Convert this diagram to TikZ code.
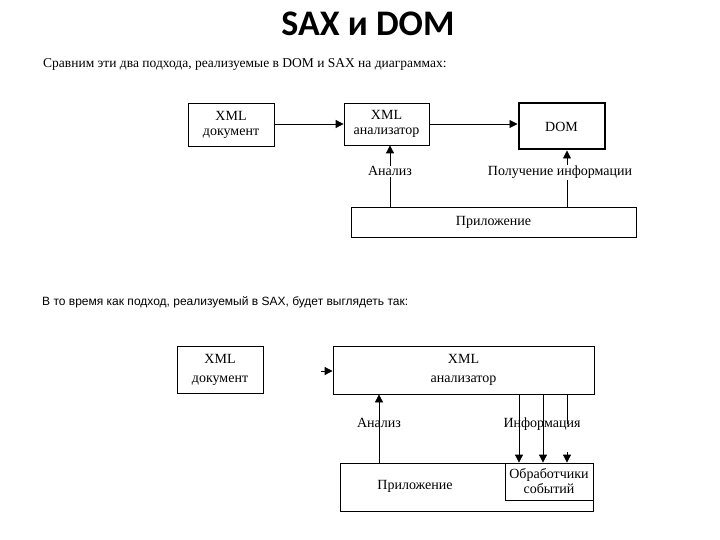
\documentclass[tikz,border=0pt]{standalone}
\usepackage{fontspec}
\setmainfont{Liberation Serif}
\newfontfamily\headfont{Carlito}
\newfontfamily\notefont{Liberation Sans}
\usepackage{tikz}
\usetikzlibrary{arrows.meta,calc}

\begin{document}
\begin{tikzpicture}[
  x=1pt, y=-1pt,
  font=\fontsize{14}{15}\selectfont,
  box/.style={draw, line width=0.8pt, align=center, inner sep=0pt},
  thickbox/.style={box, line width=2pt},
  widebox/.style={box, font=\fontsize{14}{19}\selectfont},
  lab/.style={inner sep=1pt, anchor=base},
  coverlab/.style={lab, fill=white},
  ar/.style={-{Triangle[length=8pt, width=8pt]}, line width=0.8pt}
]
\useasboundingbox (0,0) rectangle (720,540);

% heading and texts
\node[anchor=base, font=\headfont\bfseries\fontsize{36}{38}\selectfont] (title) at (368,36) {SAX и DOM};
\node[anchor=base west, inner sep=0pt, font=\fontsize{13.5}{15}\selectfont] (intro) at (43,68)
  {Сравним эти два подхода, реализуемые в DOM и SAX на диаграммах:};
\node[anchor=base west, inner sep=0pt, font=\notefont\fontsize{12}{14}\selectfont] (saxnote) at (42,305)
  {В то время как подход, реализуемый в SAX, будет выглядеть так:};

% DOM
\node[box, minimum width=86pt, minimum height=43pt] (doc1) at (231,124.5) {XML\\документ};
\node[box, minimum width=85pt, minimum height=42pt] (par1) at (386.5,124) {XML\\анализатор};
\node[thickbox, minimum width=86pt, minimum height=46pt] (dom) at (561.5,126.5) {DOM};
\node[box, minimum width=285pt, minimum height=30pt] (app1) at (493.5,222) {Приложение};

\draw[ar] (doc1.east |- par1.east) -- (par1.west);
\draw[ar] (par1.east) -- (par1.east -| dom.west);

\coordinate (anx1) at (390,176);
\coordinate (getx1) at (567,176);
\draw[ar] (app1.north -| anx1) -- (par1.south -| anx1);
\draw[ar] (app1.north -| getx1) -- (dom.south -| getx1);
\node[coverlab] (an1) at (anx1) {Анализ};
\node[coverlab] (get1) at (560,176) {Получение информации};

% SAX
\node[widebox, minimum width=86pt, minimum height=47pt] (doc2) at (220,369.5) {XML\\документ};
\node[widebox, minimum width=261pt, minimum height=48pt] (par2) at (463.5,370) {XML\\анализатор};
\node[box, minimum width=253pt, minimum height=48pt] (app2) at (466.5,487) {};
\node (app2txt) at (415,486) {Приложение};
\node[box, minimum width=88pt, minimum height=37pt] (hand) at (549,481.5) {Обработчики\\событий};

\coordinate (in2) at (321,371);
\draw[ar] (in2) -- (in2 -| par2.west);

\node[lab] (an2) at (379,427) {Анализ};
\draw[ar] (app2.north -| an2) -- (par2.south -| an2);

\foreach \xx in {519,543}
  \draw[ar] (par2.south -| \xx,0) -- (hand.north -| \xx,0);
\coordinate (stub) at (567,452);
\draw[line width=0.8pt] (par2.south -| stub) -- (stub |- 0,424);
\draw[ar] (stub) -- (hand.north -| stub);
\node[lab] (info) at (542,427) {Информация};
\end{tikzpicture}
\end{document}
